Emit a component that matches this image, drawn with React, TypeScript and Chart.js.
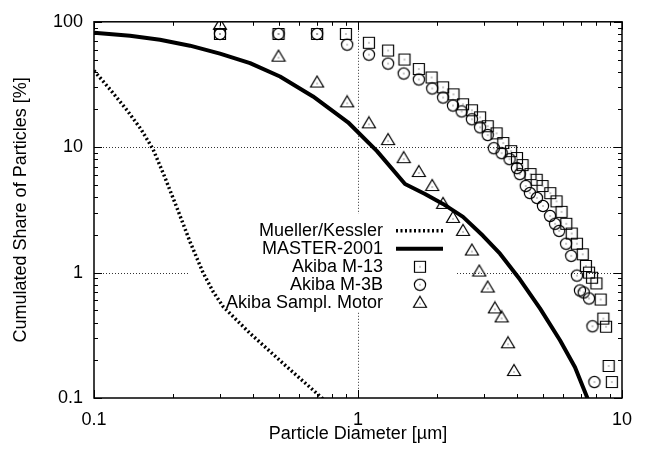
import React, { useEffect, useRef } from "react";
import { Chart, registerables } from "chart.js";
Chart.register(...registerables);

const xTicks = [0.1, 1, 10];
const yTicks = [0.1, 1, 10, 100];

const seriesNames = ["Mueller/Kessler", "MASTER-2001", "Akiba M-13", "Akiba M-3B", "Akiba Sampl. Motor"];

const muellerX = [0.1, 0.115, 0.1334, 0.1507, 0.1673, 0.1841, 0.2062, 0.231, 0.2588, 0.2824, 0.3081, 0.342, 0.39, 0.529, 0.7305, 0.7833];
const muellerY = [40.8, 28.9, 19.7, 13.9, 9.64, 5.99, 3.28, 1.762, 1.0, 0.707, 0.537, 0.431, 0.328, 0.183, 0.1, 0.088];

const masterX = [0.1, 0.1369, 0.1778, 0.231, 0.3, 0.39, 0.5064, 0.6754, 0.9165, 1.18, 1.507, 1.794, 2.099, 2.499, 2.975, 3.451, 4.108, 4.89, 5.823, 6.637, 7.369, 7.7];
const masterY = [81.8, 77.4, 71.9, 64.5, 55.7, 46.8, 36.6, 25.4, 15.8, 9.3, 5.085, 4.24, 3.53, 2.78, 1.967, 1.415, 0.88, 0.518, 0.2886, 0.1762, 0.1018, 0.0803];

const m13X = [0.3, 0.5, 0.7, 0.9, 1.1, 1.3, 1.5, 1.7, 1.9, 2.1, 2.3, 2.5, 2.7, 2.9, 3.1, 3.35, 3.55, 3.8, 4.0, 4.2, 4.5, 4.75, 5.0, 5.35, 5.65, 5.9, 6.15, 6.45, 6.75, 7.1, 7.3, 7.5, 7.7, 8.0, 8.3, 8.5, 8.7, 8.9, 9.15];
const m13Y = [80, 80, 80, 80, 68, 59, 50, 42, 36, 30, 26.4, 22, 19.7, 17.3, 14.7, 12.9, 10.8, 9.3, 8.2, 7.2, 6.1, 5.5, 4.9, 4.3, 3.7, 3.05, 2.45, 2.05, 1.7, 1.4, 1.13, 1.0, 0.91, 0.82, 0.61, 0.43, 0.37, 0.18, 0.134];

const m3bX = [0.3, 0.5, 0.7, 0.91, 1.1, 1.3, 1.49, 1.7, 1.91, 2.1, 2.29, 2.47, 2.7, 2.9, 3.1, 3.27, 3.5, 3.75, 4.0, 4.1, 4.32, 4.48, 4.76, 5.02, 5.34, 5.58, 5.78, 6.14, 6.42, 6.75, 6.93, 7.16, 7.5, 7.73, 7.86];
const m3bY = [80, 80, 80, 65.7, 54.7, 46.4, 38.7, 34.7, 29.4, 24.9, 21.5, 19.3, 16.7, 14.4, 12.5, 9.82, 8.96, 8.03, 6.81, 6.1, 4.9, 4.31, 3.94, 3.4, 2.83, 2.45, 2.15, 1.7, 1.36, 0.947, 0.72, 0.694, 0.622, 0.373, 0.134];

const motorX = [0.3, 0.5, 0.7, 0.91, 1.1, 1.3, 1.49, 1.7, 1.91, 2.1, 2.29, 2.5, 2.7, 2.88, 3.1, 3.3, 3.5, 3.7, 3.9];
const motorY = [94.6, 52.7, 32.8, 22.8, 15.5, 11.4, 8.18, 6.34, 4.9, 3.53, 2.73, 2.15, 1.5, 1.02, 0.76, 0.518, 0.439, 0.273, 0.164];

const FONT = "'Liberation Sans', Arial, Helvetica, sans-serif";
const FS = 18;

function pts(xs: number[], ys: number[]) {
  return xs.map((x, i) => ({ x, y: ys[i] }));
}

function makeMarker(kind: string): HTMLCanvasElement {
  const c = document.createElement("canvas");
  c.width = 16;
  c.height = 16;
  const g = c.getContext("2d")!;
  g.strokeStyle = "#000";
  g.lineWidth = 1.2;
  g.beginPath();
  if (kind === "square") {
    g.rect(2.5, 2.5, 11, 11);
  } else if (kind === "circle") {
    g.arc(8, 8, 5.6, 0, Math.PI * 2);
  } else {
    g.moveTo(8, 1.5);
    g.lineTo(14.5, 12.5);
    g.lineTo(1.5, 12.5);
    g.closePath();
  }
  g.stroke();
  g.fillStyle = "#222";
  if (kind === "triangle") g.fillRect(7.5, 8.5, 1, 1);
  else g.fillRect(7.5, 7.5, 1, 1);
  return c;
}

export default function App() {
  const ref = useRef<HTMLCanvasElement | null>(null);
  useEffect(() => {
    if (!ref.current) return;
    const sq = makeMarker("square");
    const ci = makeMarker("circle");
    const tr = makeMarker("triangle");

    const framePlugin = {
      id: "frame",
      beforeDatasetsDraw(chart: any) {
        const { ctx, chartArea: a, scales } = chart;
        const x = scales.x, y = scales.y;
        ctx.save();
        ctx.strokeStyle = "#333";
        ctx.lineWidth = 1;
        ctx.setLineDash([1, 2]);
        for (const v of [1]) {
          const px = Math.round(x.getPixelForValue(v)) + 0.5;
          ctx.beginPath(); ctx.moveTo(px, a.top); ctx.lineTo(px, a.bottom); ctx.stroke();
        }
        for (const v of [1, 10]) {
          const py = Math.round(y.getPixelForValue(v)) + 0.5;
          ctx.beginPath(); ctx.moveTo(a.left, py); ctx.lineTo(a.right, py); ctx.stroke();
        }
        ctx.setLineDash([]);
        // legend box (opaque)
        ctx.fillStyle = "#fff";
        ctx.fillRect(a.left + 94, a.top + 192, 267, 98);
        // legend entries
        const tx = a.left + 289;
        const sx0 = a.left + 302, sx1 = a.left + 349, mx = a.left + 326;
        ctx.font = `${FS}px ${FONT}`;
        ctx.fillStyle = "#000";
        ctx.textAlign = "right";
        ctx.textBaseline = "middle";
        seriesNames.forEach((name, i) => {
          const ry = a.top + 209 + i * 18;
          ctx.fillText(name, tx, ry);
          if (i === 0) {
            ctx.strokeStyle = "#000"; ctx.lineWidth = 3.5; ctx.setLineDash([2, 2.5]);
            ctx.beginPath(); ctx.moveTo(sx0, ry); ctx.lineTo(sx1, ry); ctx.stroke();
            ctx.setLineDash([]);
          } else if (i === 1) {
            ctx.strokeStyle = "#000"; ctx.lineWidth = 4;
            ctx.beginPath(); ctx.moveTo(sx0, ry); ctx.lineTo(sx1, ry); ctx.stroke();
          } else {
            const img = i === 2 ? sq : i === 3 ? ci : tr;
            ctx.drawImage(img, mx - 8, ry - 8);
          }
        });
        ctx.restore();
      },
      afterDatasetsDraw(chart: any) {
        const { ctx, chartArea: a, scales } = chart;
        const x = scales.x, y = scales.y;
        ctx.save();
        ctx.strokeStyle = "#000";
        ctx.lineWidth = 1;
        const major = 8, minor = 4;
        const tickLine = (x0: number, y0: number, x1: number, y1: number) => {
          ctx.beginPath(); ctx.moveTo(x0, y0); ctx.lineTo(x1, y1); ctx.stroke();
        };
        for (let d = -1; d <= 0; d++) {
          for (let k = 1; k <= 10; k++) {
            const v = k * Math.pow(10, d);
            const px = Math.round(x.getPixelForValue(v)) + 0.5;
            const len = k === 1 || k === 10 ? major : minor;
            tickLine(px, a.bottom, px, a.bottom - len);
            tickLine(px, a.top, px, a.top + len);
          }
        }
        for (let d = -1; d <= 1; d++) {
          for (let k = 1; k <= 10; k++) {
            const v = k * Math.pow(10, d);
            const py = Math.round(y.getPixelForValue(v)) + 0.5;
            const len = k === 1 || k === 10 ? major : minor;
            tickLine(a.left, py, a.left + len, py);
            tickLine(a.right, py, a.right - len, py);
          }
        }
        ctx.lineWidth = 1.5;
        ctx.strokeRect(a.left, a.top, a.right - a.left, a.bottom - a.top);
        ctx.restore();
      },
    };

    const font = { family: FONT, size: FS };
    const chart = new Chart(ref.current, {
      type: "scatter",
      data: {
        datasets: [
          { label: seriesNames[0], data: pts(muellerX, muellerY), showLine: true, borderColor: "#000", borderWidth: 3.5, borderDash: [2, 2.5], pointRadius: 0, tension: 0 },
          { label: seriesNames[1], data: pts(masterX, masterY), showLine: true, borderColor: "#000", borderWidth: 4, pointRadius: 0, tension: 0, borderJoinStyle: "round" },
          { label: seriesNames[2], data: pts(m13X, m13Y), showLine: false, pointStyle: sq as any, pointRadius: 6 },
          { label: seriesNames[3], data: pts(m3bX, m3bY), showLine: false, pointStyle: ci as any, pointRadius: 6 },
          { label: seriesNames[4], data: pts(motorX, motorY), showLine: false, pointStyle: tr as any, pointRadius: 6 },
        ],
      } as any,
      options: {
        animation: false,
        responsive: false,
        events: [],
        layout: { padding: { top: 20, right: 23, left: 0, bottom: 0 } },
        plugins: { legend: { display: false }, tooltip: { enabled: false } },
        scales: {
          x: {
            type: "logarithmic",
            min: 0.1,
            max: 10,
            afterBuildTicks: (ax: any) => { ax.ticks = xTicks.map((v) => ({ value: v })); },
            afterFit: (s: any) => { s.height = 55; },
            grid: { display: false, drawTicks: false },
            border: { display: false },
            ticks: { callback: (v: any) => String(v), color: "#000", font, padding: 11, maxRotation: 0, autoSkip: false },
            title: { display: true, text: "Particle Diameter [µm]", color: "#000", font, padding: { top: 0, bottom: 8 } },
          },
          y: {
            type: "logarithmic",
            min: 0.1,
            max: 100,
            afterBuildTicks: (ax: any) => { ax.ticks = yTicks.map((v) => ({ value: v })); },
            afterFit: (s: any) => { s.width = 94; },
            grid: { display: false, drawTicks: false },
            border: { display: false },
            ticks: { callback: (v: any) => String(v), color: "#000", font, padding: 11, autoSkip: false },
            title: { display: true, text: "Cumulated Share of Particles [%]", color: "#000", font, padding: { top: 10, bottom: 0 } },
          },
        },
      } as any,
      plugins: [framePlugin],
    });
    return () => chart.destroy();
  }, []);
  return (
    <div style={{ position: "fixed", left: 0, top: 0, width: 645, height: 453, background: "#fff" }}>
      <canvas ref={ref} width={645} height={453} style={{ display: "block" }} />
    </div>
  );
}
